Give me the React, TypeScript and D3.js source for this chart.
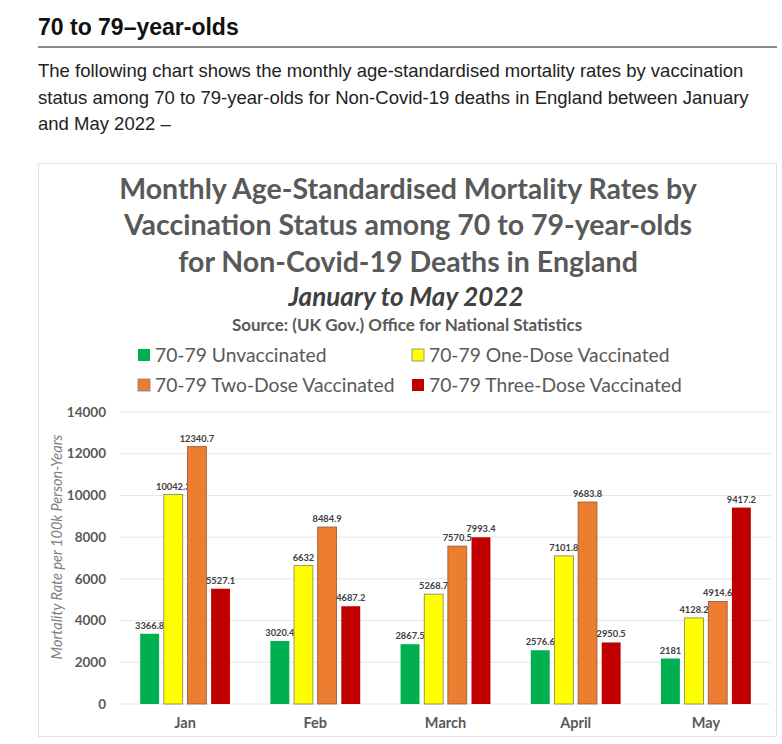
import React from "react"
import * as d3 from "d3"

const months = ["Jan", "Feb", "March", "April", "May"]
const seriesNames = [
  "70-79 Unvaccinated",
  "70-79 One-Dose Vaccinated",
  "70-79 Two-Dose Vaccinated",
  "70-79 Three-Dose Vaccinated",
]
const unvaccinated = [3366.8, 3020.4, 2867.5, 2576.6, 2181]
const oneDose = [10042.3, 6632, 5268.7, 7101.8, 4128.2]
const twoDose = [12340.7, 8484.9, 7570.5, 9683.8, 4914.6]
const threeDose = [5527.1, 4687.2, 7993.4, 2950.5, 9417.2]
const yTicks = [0, 2000, 4000, 6000, 8000, 10000, 12000, 14000]

const colors = ["#00b050", "#ffff00", "#ed7d31", "#c00000"]
const outlines = ["none", "#7f7f5f", "#8a5a3a", "none"]

const W = 782
const H = 744
const grey = "#595959"
const chartFont = "Lato, 'Noto Sans', sans-serif"

export default function App() {
  const series = [unvaccinated, oneDose, twoDose, threeDose]
  const margin = { left: 120, right: 11, top: 412, bottom: 40 }

  const x = d3
    .scaleBand()
    .domain(months)
    .range([margin.left, W - margin.right])
    .paddingInner(0.31)
    .paddingOuter(0.155)

  const xs = d3
    .scaleBand()
    .domain(seriesNames)
    .range([0, x.bandwidth()])
    .paddingInner(0.2)

  const y = d3.scaleLinear().domain([0, 14000]).range([704, 412])

  const paragraph = [
    "The following chart shows the monthly age-standardised mortality rates by vaccination",
    "status among 70 to 79-year-olds for Non-Covid-19 deaths in England between January",
    "and May 2022 –",
  ]

  return (
    <svg
      width={W}
      height={H}
      style={{ position: "absolute", left: 0, top: 0, background: "#fff" }}
    >
      {/* page heading */}
      <text x={38} y={35} fontFamily="'Liberation Sans', Arial, sans-serif" fontWeight="bold" fontSize={23} fill="#111">
        70 to 79–year-olds
      </text>
      <rect x={38} y={46} width={739} height={2} fill="#8c8c8c" />
      {paragraph.map((line, i) => (
        <text
          key={i}
          x={38}
          y={77 + i * 26.5}
          fontFamily="'Liberation Sans', Arial, sans-serif"
          fontSize={18.5}
          fill="#222"
        >
          {line}
        </text>
      ))}

      {/* chart image frame */}
      <rect x={38.5} y={163.5} width={738} height={573} fill="#fff" stroke="#e3e3e3" />

      <g fontFamily={chartFont} fill={grey} textAnchor="middle">
        <text x={408} y={199} fontSize={28.5} fontWeight="bold">
          Monthly Age-Standardised Mortality Rates by
        </text>
        <text x={408} y={235} fontSize={28.5} fontWeight="bold">
          Vaccination Status among 70 to 79-year-olds
        </text>
        <text x={408} y={272} fontSize={28.5} fontWeight="bold">
          for Non-Covid-19 Deaths in England
        </text>
        <text x={406} y={306} fontSize={26} fontWeight="bold" fontStyle="italic" fill="#404040">
          January to May 2022
        </text>
        <text x={407} y={331} fontSize={17} fontWeight="bold">
          Source: (UK Gov.) Office for National Statistics
        </text>
      </g>

      {/* legend */}
      <g fontFamily={chartFont} fontSize={19.3} fill={grey}>
        {seriesNames.map((name, i) => {
          const lx = i % 2 === 0 ? 138 : 412
          const ly = i < 2 ? 355 : 385
          return (
            <g key={name}>
              <rect
                x={lx}
                y={ly - 6}
                width={12}
                height={12}
                fill={colors[i]}
                stroke={i === 0 || i === 3 ? "none" : "#7f7f7f"}
                strokeWidth={0.8}
              />
              <text x={lx + 17} y={ly + 7}>
                {name}
              </text>
            </g>
          )
        })}
      </g>

      {/* gridlines and y ticks */}
      {yTicks.map((t) => (
        <g key={t}>
          <line x1={margin.left} x2={W - margin.right} y1={y(t)} y2={y(t)} stroke="#e6e6e6" strokeWidth={1} />
          <text
            x={106}
            y={y(t)}
            dy="0.35em"
            textAnchor="end"
            fontFamily={chartFont}
            fontWeight="bold"
            fontSize={13.5}
            fill={grey}
          >
            {t}
          </text>
        </g>
      ))}

      <text
        transform={`translate(57,${547}) rotate(-90)`}
        textAnchor="middle"
        dy="0.35em"
        fontFamily={chartFont}
        fontStyle="italic"
        fontSize={14.5}
        fill="#7f7f7f"
      >
        Mortality Rate per 100k Person-Years
      </text>

      {/* bars */}
      {months.map((m, mi) => (
        <g key={m} transform={`translate(${x(m)},0)`}>
          {series.map((vals, si) => {
            const bx = xs(seriesNames[si]) || 0
            const v = vals[mi]
            return (
              <g key={si}>
                <rect
                  x={bx}
                  y={y(v)}
                  width={xs.bandwidth()}
                  height={y(0) - y(v)}
                  fill={colors[si]}
                  stroke={outlines[si]}
                  strokeWidth={0.8}
                />
                <text
                  x={bx + xs.bandwidth() / 2}
                  y={y(v) - 5}
                  textAnchor="middle"
                  fontFamily={chartFont}
                  fontWeight="bold"
                  fontSize={9.3}
                  fill="#404040"
                >
                  {v}
                </text>
              </g>
            )
          })}
          <text
            x={x.bandwidth() / 2}
            y={728}
            textAnchor="middle"
            fontFamily={chartFont}
            fontWeight="bold"
            fontSize={14.5}
            fill={grey}
          >
            {m}
          </text>
        </g>
      ))}
    </svg>
  )
}
